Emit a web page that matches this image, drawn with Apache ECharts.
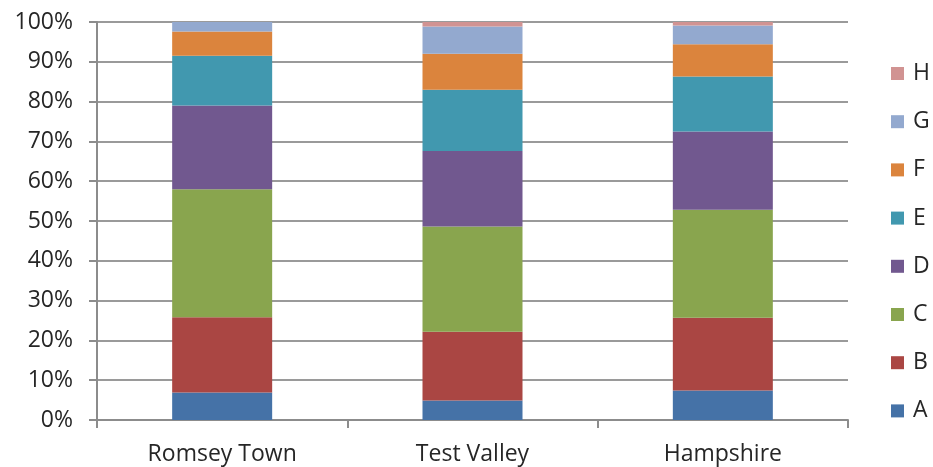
<!DOCTYPE html>
<html><head><meta charset="utf-8">
<script src="https://cdn.jsdelivr.net/npm/echarts@6/dist/echarts.min.js"></script>
<style>html,body{margin:0;padding:0;background:#fff}#c{width:933px;height:467px}</style>
</head><body><div id="c"></div>
<script>
const categories = ['Romsey Town', 'Test Valley', 'Hampshire'];
const seriesNames = ['A', 'B', 'C', 'D', 'E', 'F', 'G', 'H'];
const A = [6.9, 4.9, 7.4];
const B = [18.9, 17.3, 18.3];
const C = [32.2, 26.4, 27.1];
const D = [21.0, 19.0, 19.7];
const E = [12.5, 15.4, 13.8];
const F = [6.1, 9.0, 8.1];
const G = [2.4, 6.9, 4.7];
const H = [0.0, 1.1, 0.9];
const values = [A, B, C, D, E, F, G, H];
const colors = ['#4572A7', '#AA4643', '#89A54E', '#71588F', '#4198AF', '#DB843D', '#93A9CF', '#D19392'];
const yTicks = [0, 10, 20, 30, 40, 50, 60, 70, 80, 90, 100];

const font = 'Open Sans';
const chart = echarts.init(document.getElementById('c'));
chart.setOption({
  animation: false,
  color: colors,
  grid: { left: 97, right: 85, top: 22, bottom: 47 },
  legend: {
    data: seriesNames.slice().reverse(),
    orient: 'vertical',
    left: 891, top: 62,
    padding: 0,
    itemWidth: 13, itemHeight: 13,
    itemGap: 25.2,
    icon: 'rect',
    textStyle: { fontFamily: font, fontSize: 23, lineHeight: 20, color: '#262626', padding: [0, 0, 0, 4] }
  },
  xAxis: {
    type: 'category',
    data: categories,
    axisLine: { lineStyle: { color: '#8c8c8c', width: 2 } },
    axisTick: { show: true, length: 8, lineStyle: { color: '#8c8c8c', width: 2 } },
    axisLabel: { fontFamily: font, fontSize: 23, color: '#262626', margin: 23 }
  },
  yAxis: {
    type: 'value',
    min: yTicks[0], max: yTicks[yTicks.length - 1], interval: 10,
    axisLine: { show: true, lineStyle: { color: '#8c8c8c', width: 2 } },
    axisTick: { show: true, length: 8, lineStyle: { color: '#8c8c8c', width: 2 } },
    splitLine: { lineStyle: { color: '#9a9a9a', width: 2 } },
    axisLabel: { fontFamily: font, fontSize: 23, color: '#262626', margin: 24, formatter: '{value}%' }
  },
  series: seriesNames.map((n, i) => ({
    name: n,
    type: 'bar',
    stack: 'total',
    barWidth: 100,
    data: values[i]
  }))
});
</script></body></html>
